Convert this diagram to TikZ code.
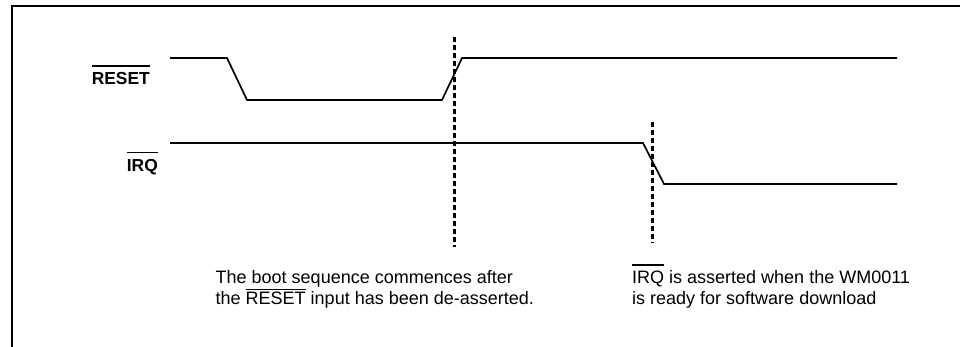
\documentclass[tikz,border=0pt]{standalone}
\usepackage{fontspec}
\setmainfont{Liberation Sans}

\newsavebox{\ovlbox}
\newcommand{\ovl}[2]{\sbox{\ovlbox}{#1}\rlap{\raisebox{#2}{\rule{\wd\ovlbox}{1.8pt}}}\usebox{\ovlbox}}

\begin{document}
\begin{tikzpicture}[x=1pt, y=-1pt,
        signal/.style={line width=1.7pt, line join=miter},
        marker/.style={line width=3pt, dash pattern=on 5pt off 3pt},
        frame/.style={line width=2pt},
        siglabel/.style={inner sep=0pt, anchor=base east, font=\fontsize{17.4}{20}\selectfont\bfseries},
        note/.style={inner sep=0pt, anchor=base west, font=\fontsize{18}{21}\selectfont}]
                    \useasboundingbox (0, 0) rectangle (960, 347);

                    \draw[frame] (11.5, 347) -- (11.5, 6.5) -- (960, 6.5);

                    \draw[signal] (170, 58) -- (227, 58) -- (247, 100) -- (442, 100) -- (462, 58) -- (897, 58);
                    \draw[signal] (170, 143) -- (643, 143) -- (664, 184) -- (897, 184);

                    \draw[marker] (454, 37) -- (454, 247);
                    \draw[marker] (652, 122) -- (652, 243);

                    \node[siglabel] (reset) at (150, 85) {\ovl{RESET}{18pt}};
                    \node[siglabel] (irq) at (158, 171.5) {\ovl{IRQ}{18pt}};

                    \node[note] (bootline1) at (215.5, 283.5) {The boot sequence commences after};
                    \node[note] (bootline2) at (215.5, 304.5) {the \ovl{RESET}{14.2pt} input has been de-asserted.};
                    \node[note] (irqline1) at (632, 283.5) {\ovl{IRQ}{17.5pt} is asserted when the WM0011};
                    \node[note] (irqline2) at (632, 304.5) {is ready for software download};
                \end{tikzpicture}
\end{document}
